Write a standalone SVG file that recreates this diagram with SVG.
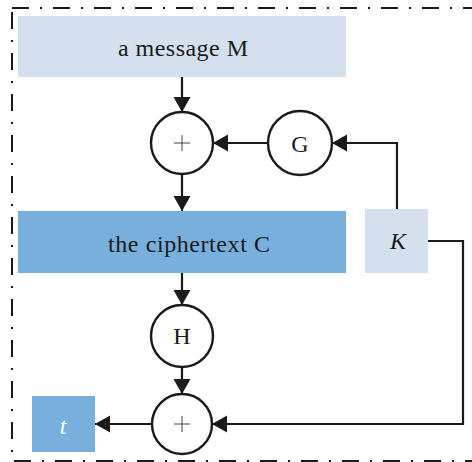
<svg xmlns="http://www.w3.org/2000/svg" width="472" height="462" viewBox="0 0 472 462">
<defs>
<marker id="ah" markerWidth="16" markerHeight="18" refX="15" refY="8.5" orient="auto" markerUnits="userSpaceOnUse">
<path d="M0,0 L15,8.5 L0,17 Z" fill="#1a1a1a"/>
</marker>
</defs>
<style>
.light{fill:#d4e0ee}
.dark{fill:#78b0dd}
.circ{fill:#fff;stroke:#1a1a1a;stroke-width:2.4}
.conn{fill:none;stroke:#1a1a1a;stroke-width:2.2}
.plus{stroke:#444;stroke-width:1}
.lbl{font-family:'Liberation Serif','Times New Roman',serif;font-size:24px;fill:#1a1a1a;text-anchor:middle}
</style>
<rect x="12" y="8" width="480" height="453" fill="none" stroke="#1a1a1a" stroke-width="2" stroke-dasharray="17 11 2 11"/>
<g id="message">
<rect class="light" x="18" y="16" width="328" height="61"/>
<text class="lbl" x="183" y="56" textLength="130" lengthAdjust="spacing">a message M</text>
</g>
<g id="xor1">
<circle class="circ" cx="182" cy="143" r="31"/>
<path class="plus" d="M174,143 H190 M182,135 V151"/>
</g>
<g id="G">
<circle class="circ" cx="300" cy="143" r="32"/>
<text class="lbl" x="300" y="152">G</text>
</g>
<g id="cipher">
<rect class="dark" x="18" y="211" width="328" height="62"/>
<text class="lbl" x="189" y="252" textLength="162" lengthAdjust="spacing">the ciphertext C</text>
</g>
<g id="K">
<rect class="light" x="365" y="209" width="63" height="64"/>
<text class="lbl" x="398" y="249" font-style="italic">K</text>
</g>
<g id="H">
<circle class="circ" cx="182" cy="336" r="31"/>
<text class="lbl" x="182" y="344">H</text>
</g>
<g id="xor2">
<circle class="circ" cx="182" cy="424" r="30"/>
<path class="plus" d="M174,424 H190 M182,416 V432"/>
</g>
<g id="t">
<rect class="dark" x="32" y="396" width="63" height="56"/>
<text class="lbl" x="63" y="434" font-style="italic" style="fill:#fff">t</text>
</g>
<g id="connectors">
<path class="conn" d="M182,77 V112" marker-end="url(#ah)"/>
<path class="conn" d="M182,174 V211" marker-end="url(#ah)"/>
<path class="conn" d="M268,143 H213" marker-end="url(#ah)"/>
<path class="conn" d="M397,209 V143 H332" marker-end="url(#ah)"/>
<path class="conn" d="M182,273 V305" marker-end="url(#ah)"/>
<path class="conn" d="M182,367 V394" marker-end="url(#ah)"/>
<path class="conn" d="M152,424 H95" marker-end="url(#ah)"/>
<path class="conn" d="M428,241 H463 V424 H212" marker-end="url(#ah)"/>
</g>
</svg>
